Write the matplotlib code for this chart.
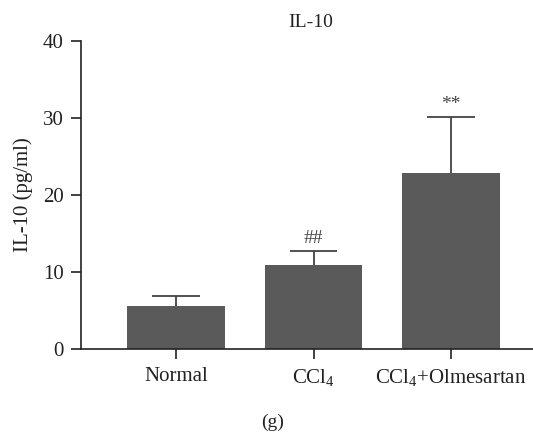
import matplotlib
matplotlib.use("Agg")
import matplotlib.pyplot as plt

categories = ["Normal", "CCl$_4$", "CCl$_4$+Olmesartan"]
means = [5.5, 10.83, 22.85]
errors = [1.28, 1.91, 7.32]
marks = ["", "##", "**"]
yticks = [0, 10, 20, 30, 40]

plt.rcParams['font.family'] = ['Liberation Serif', 'DejaVu Serif']
plt.rcParams['mathtext.fontset'] = 'custom'
plt.rcParams['mathtext.rm'] = 'Liberation Serif'
plt.rcParams['mathtext.it'] = 'Liberation Serif:italic'

fig = plt.figure(figsize=(5.33, 4.34), dpi=100)
ax = fig.add_axes([0.152, 0.197, 0.848, 0.7085])
x = list(range(len(categories)))
color = "#5a5a5a"
ax.bar(x, means, width=0.71, color=color, zorder=2)
cap = 0.173
for xi, m, e, s in zip(x, means, errors, marks):
    ax.vlines(xi, m, m + e, colors='#333333', linewidth=1.2, zorder=1)
    ax.hlines(m + e, xi - cap, xi + cap, colors='#444444', linewidth=1.3, zorder=1)
    if s:
        ax.text(xi, m + e + 0.45, s, ha='center', va='bottom', fontsize=14, color='#444444')

ax.set_xlim(-0.691, 2.596)
ax.set_ylim(0, 40)
ax.set_yticks(yticks)
ax.set_xticks(x)
ax.set_xticklabels(categories, fontsize=15)
ax.tick_params(axis='y', labelsize=15, length=7.5, width=1.2, direction='out', pad=5, colors='#222222')
ax.tick_params(axis='x', length=7.5, width=1.2, direction='out', pad=6, colors='#222222')
for sp in ['top', 'right']:
    ax.spines[sp].set_visible(False)
for sp in ['left', 'bottom']:
    ax.spines[sp].set_linewidth(1.2)
    ax.spines[sp].set_color('#222222')
ax.set_ylabel("IL-10 (pg/ml)", fontsize=15, labelpad=7, color='#222222')
fig.text(0.582, 0.949, "IL-10", ha='center', va='center', fontsize=14, color='#222222')
fig.text(0.512, 0.027, "(g)", ha='center', va='center', fontsize=14, color='#222222')
fig.savefig("out.png", dpi=100)
